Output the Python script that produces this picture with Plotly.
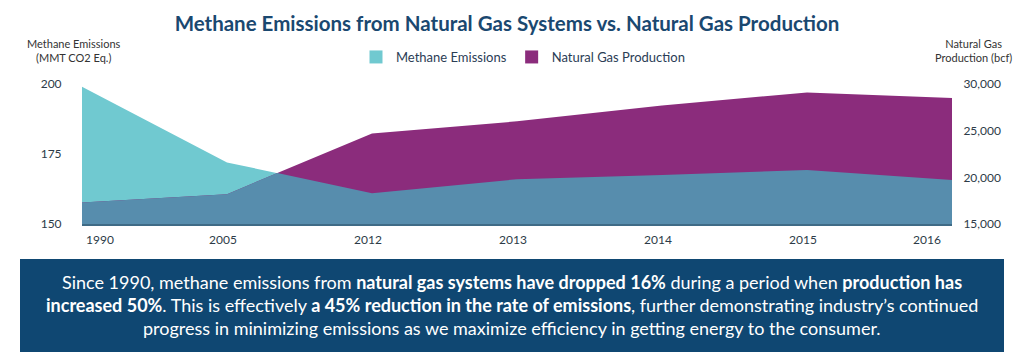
import plotly.graph_objects as go

years = ["1990", "2005", "2012", "2013", "2014", "2015", "2016"]
methane = [199.0, 172.0, 161.0, 166.0, 167.5, 169.3, 165.7]          # MMT CO2 Eq.
production = [17300, 18200, 24700, 26000, 27700, 29100, 28500]       # bcf

left_ticks = [150, 175, 200]
right_ticks = [15000, 20000, 25000, 30000]
right_tick_text = ["15,000", "20,000", "25,000", "30,000"]

L_RANGE = [150, 200]
R_RANGE = [15000, 30000]

TEAL = "#70c9d0"
PURPLE = "#8b2c7c"
OVERLAP = "#578dad"
NAVY = "#1a4870"
TICK = "#2d3b48"
FONT = "Lato"

# plot area in pixels
PL, PR, PT, PB = 82, 952, 84, 224


def pxx(x):
    return (x - PL) / (PR - PL)


def pxy(y):
    return (PB - y) / (PB - PT)


def to_right(v):
    return R_RANGE[0] + (v - L_RANGE[0]) * (R_RANGE[1] - R_RANGE[0]) / (L_RANGE[1] - L_RANGE[0])


xs = list(range(len(years)))
m_r = [to_right(v) for v in methane]
ox, oy = [], []
for i in range(len(xs)):
    if i > 0:
        d0 = m_r[i - 1] - production[i - 1]
        d1 = m_r[i] - production[i]
        if d0 * d1 < 0:
            t = d0 / (d0 - d1)
            ox.append(xs[i - 1] + t)
            oy.append(m_r[i - 1] + t * (m_r[i] - m_r[i - 1]))
    ox.append(xs[i])
    oy.append(min(m_r[i], production[i]))

fig = go.Figure()
fig.add_trace(go.Scatter(x=xs, y=methane, name="Methane Emissions", mode="lines", showlegend=False,
                         line=dict(width=0, color=TEAL), fill="tozeroy", fillcolor=TEAL,
                         yaxis="y", hoverinfo="skip"))
fig.add_trace(go.Scatter(x=xs, y=production, name="Natural Gas Production", mode="lines",
                         showlegend=False,
                         line=dict(width=0, color=PURPLE), fill="tozeroy", fillcolor=PURPLE,
                         yaxis="y2", hoverinfo="skip"))
fig.add_trace(go.Scatter(x=ox, y=oy, name="overlap", mode="lines", showlegend=False,
                         line=dict(width=0, color=OVERLAP), fill="tozeroy", fillcolor=OVERLAP,
                         yaxis="y2", hoverinfo="skip"))
# legend swatches
for nm, col in [("Methane Emissions", TEAL), ("Natural Gas Production", PURPLE)]:
    fig.add_trace(go.Scatter(x=[None], y=[None], name=nm, mode="markers",
                             marker=dict(symbol="square", size=13, color=col), showlegend=True))

annotations = []
for i, yr in enumerate(years):
    anchor = "left" if i == 0 else ("right" if i == len(years) - 1 else "center")
    shift = 2 if i == 0 else (-9 if i == len(years) - 1 else -4)
    annotations.append(dict(x=xs[i], y=pxy(239), xref="x", yref="paper", text=yr,
                            showarrow=False, xanchor=anchor, yanchor="middle", xshift=shift,
                            font=dict(family=FONT, size=12, color=TICK)))

annotations.append(dict(x=pxx(74), y=pxy(51), xref="paper", yref="paper",
                        text="Methane Emissions<br>(MMT CO2 Eq.)", showarrow=False,
                        xanchor="center", yanchor="middle", align="center",
                        font=dict(family=FONT, size=11, color="#333333")))
annotations.append(dict(x=pxx(974), y=pxy(51), xref="paper", yref="paper",
                        text="Natural Gas<br>Production (bcf)", showarrow=False,
                        xanchor="center", yanchor="middle", align="center",
                        font=dict(family=FONT, size=11, color="#333333")))

lines = [
    "Since 1990, methane emissions from <b>natural gas systems have dropped 16%</b> during a period when <b>production has</b>",
    "<b>increased 50%</b>. This is effectively <b>a 45% reduction in the rate of emissions</b>, further demonstrating industry\u2019s continued",
    "progress in minimizing emissions as we maximize efficiency in getting energy to the consumer.",
]
for ln, yy in zip(lines, [282, 305, 328]):
    annotations.append(dict(x=pxx(512), y=pxy(yy), xref="paper", yref="paper", text=ln,
                            showarrow=False, xanchor="center", yanchor="middle",
                            font=dict(family=FONT, size=18, color="white")))

fig.update_layout(
    width=1024, height=362,
    margin=dict(l=PL, r=1024 - PR, t=PT, b=362 - PB),
    paper_bgcolor="white", plot_bgcolor="white",
    title=dict(text="<b>Methane Emissions from Natural Gas Systems vs. Natural Gas Production</b>",
               x=507 / 1024, y=1 - 24 / 362, xanchor="center", yanchor="middle",
               font=dict(family=FONT, size=20.5, color=NAVY)),
    showlegend=True,
    legend=dict(orientation="h", x=pxx(523), y=pxy(57), xanchor="center", yanchor="middle",
                font=dict(family=FONT, size=13, color="#2b3d55"), bgcolor="rgba(0,0,0,0)",
                itemwidth=30, tracegroupgap=0),
    xaxis=dict(range=[0, len(years) - 1], tickvals=xs, showticklabels=False,
               showgrid=False, zeroline=False, showline=True, linecolor="#3f6b86", linewidth=2,
               ticks=""),
    yaxis=dict(range=L_RANGE, tickvals=left_ticks, showgrid=False, zeroline=False,
               ticks="outside", ticklen=17, tickcolor="rgba(0,0,0,0)",
               tickfont=dict(family=FONT, size=12, color=TICK)),
    yaxis2=dict(range=R_RANGE, tickvals=right_ticks, ticktext=right_tick_text, overlaying="y",
                side="right", showgrid=False, zeroline=False,
                ticks="outside", ticklen=8, tickcolor="rgba(0,0,0,0)",
                tickfont=dict(family=FONT, size=12, color=TICK)),
    shapes=[dict(type="rect", xref="paper", yref="paper", x0=pxx(20), x1=pxx(1004),
                 y0=pxy(352), y1=pxy(259), fillcolor="#0f4772", line=dict(width=0), layer="below")],
    annotations=annotations,
)

fig.write_html("out.html", config={"displayModeBar": False},
               post_script="document.body.style.margin='0';document.body.style.overflow='hidden';")
